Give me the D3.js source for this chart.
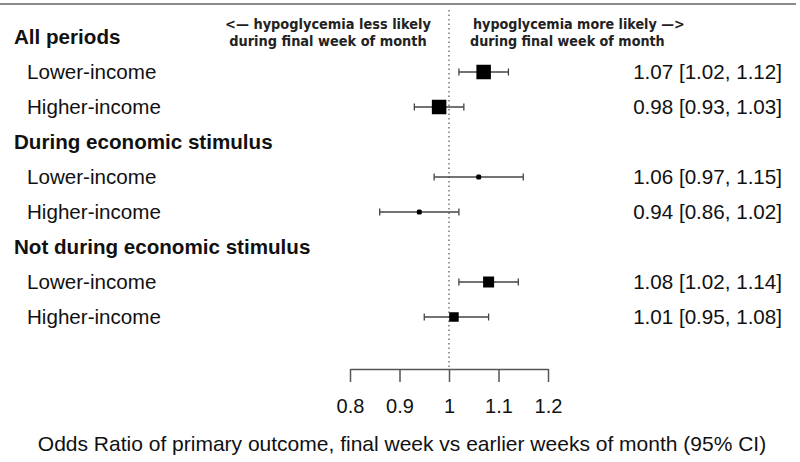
<!DOCTYPE html>
<html><head><meta charset="utf-8">
<script src="https://cdn.jsdelivr.net/npm/d3@7"></script>
<style>body{margin:0;background:#fff}svg{display:block}</style>
</head><body><svg id="c" width="800" height="462"></svg>
<script>
const groups = ["All periods", "During economic stimulus", "Not during economic stimulus"];
const rowLabels = ["Lower-income", "Higher-income", "Lower-income", "Higher-income", "Lower-income", "Higher-income"];
const rowGroup = [0, 0, 1, 1, 2, 2];
const estimates = [1.07, 0.98, 1.06, 0.94, 1.08, 1.01];
const lower = [1.02, 0.93, 0.97, 0.86, 1.02, 0.95];
const upper = [1.12, 1.03, 1.15, 1.02, 1.14, 1.08];
const ciText = ["1.07 [1.02, 1.12]", "0.98 [0.93, 1.03]", "1.06 [0.97, 1.15]", "0.94 [0.86, 1.02]", "1.08 [1.02, 1.14]", "1.01 [0.95, 1.08]"];
const weights = [14.5, 14.5, 5, 5, 11, 9.5];
const tickValues = [0.8, 0.9, 1.0, 1.1, 1.2];
const tickLabels = ["0.8", "0.9", "1", "1.1", "1.2"];
const headerLeft = ["<— hypoglycemia less likely", "during final week of month"];
const headerRight = ["hypoglycemia more likely —>", "during final week of month"];
const axisTitle = "Odds Ratio of primary outcome, final week vs earlier weeks of month (95% CI)";

const svg = d3.select("#c");
const font = "Liberation Sans, Arial, sans-serif";
const narrow = "'Liberation Sans Narrow', 'Arial Narrow', 'DejaVu Sans Condensed', sans-serif";
const FS = 20.6;

const x = d3.scaleLinear().domain([0.8, 1.2]).range([350, 548]);
const lines = [];
groups.forEach((g, gi) => {
  lines.push({type: "g", gi});
  rowGroup.forEach((rg, i) => { if (rg === gi) lines.push({type: "r", i}); });
});
const y = d3.scalePoint().domain(d3.range(lines.length)).range([37, 317]);

svg.append("line").attr("x1", 0).attr("x2", 796).attr("y1", 4).attr("y2", 4)
  .attr("stroke", "#8a8a8a").attr("stroke-width", 2);

svg.append("line").attr("x1", x(1)).attr("x2", x(1)).attr("y1", 10).attr("y2", 368)
  .attr("stroke", "#777").attr("stroke-width", 1.5).attr("stroke-dasharray", "1.5,3");

headerLeft.forEach((t, k) => svg.append("text").attr("x", 328).attr("y", 29 + k * 17)
  .attr("text-anchor", "middle").attr("font-family", narrow).attr("font-weight", "bold")
  .attr("font-size", 14.4).attr("fill", "#222").text(t));
headerRight.forEach((t, k) => svg.append("text").attr("x", k === 0 ? 473 : 470).attr("y", 29 + k * 17)
  .attr("text-anchor", "start").attr("font-family", narrow).attr("font-weight", "bold")
  .attr("font-size", 14.2).attr("fill", "#222").text(t));

lines.forEach((ln, li) => {
  const yy = y(li);
  if (ln.type === "g") {
    svg.append("text").attr("x", 14).attr("y", yy + 7).attr("font-family", font)
      .attr("font-weight", "bold").attr("font-size", FS).attr("fill", "#111").text(groups[ln.gi]);
  } else {
    const i = ln.i;
    svg.append("text").attr("x", 27).attr("y", yy + 7).attr("font-family", font)
      .attr("font-size", FS).attr("fill", "#111").text(rowLabels[i]);
    svg.append("text").attr("x", 782).attr("y", yy + 7).attr("text-anchor", "end")
      .attr("font-family", font).attr("font-size", FS).attr("fill", "#111").text(ciText[i]);
    const g = svg.append("g");
    g.append("line").attr("x1", x(lower[i])).attr("x2", x(upper[i])).attr("y1", yy).attr("y2", yy)
      .attr("stroke", "#444").attr("stroke-width", 1.3);
    [lower[i], upper[i]].forEach(v => g.append("line").attr("x1", x(v)).attr("x2", x(v))
      .attr("y1", yy - 3.5).attr("y2", yy + 3.5).attr("stroke", "#444").attr("stroke-width", 1.3));
    const s = weights[i];
    g.append("rect").attr("x", x(estimates[i]) - s / 2).attr("y", yy - s / 2)
      .attr("width", s).attr("height", s).attr("fill", "#000")
      .attr("rx", s < 7 ? 1.5 : 0);
  }
});

const axis = d3.axisBottom(x).tickValues(tickValues).tickFormat((d, k) => tickLabels[k])
  .tickSizeInner(13).tickSizeOuter(0).tickPadding(17);
const ag = svg.append("g").attr("transform", "translate(0,369)").call(axis);
ag.select(".domain").attr("stroke", "#555").attr("stroke-width", 1.5);
ag.selectAll(".tick line").attr("stroke", "#555").attr("stroke-width", 1.5);
ag.selectAll(".tick text").attr("font-family", font).attr("font-size", 20).attr("fill", "#111");

svg.append("text").attr("x", 402).attr("y", 451).attr("text-anchor", "middle")
  .attr("font-family", font).attr("font-size", 21).attr("fill", "#111").text(axisTitle);
</script></body></html>
